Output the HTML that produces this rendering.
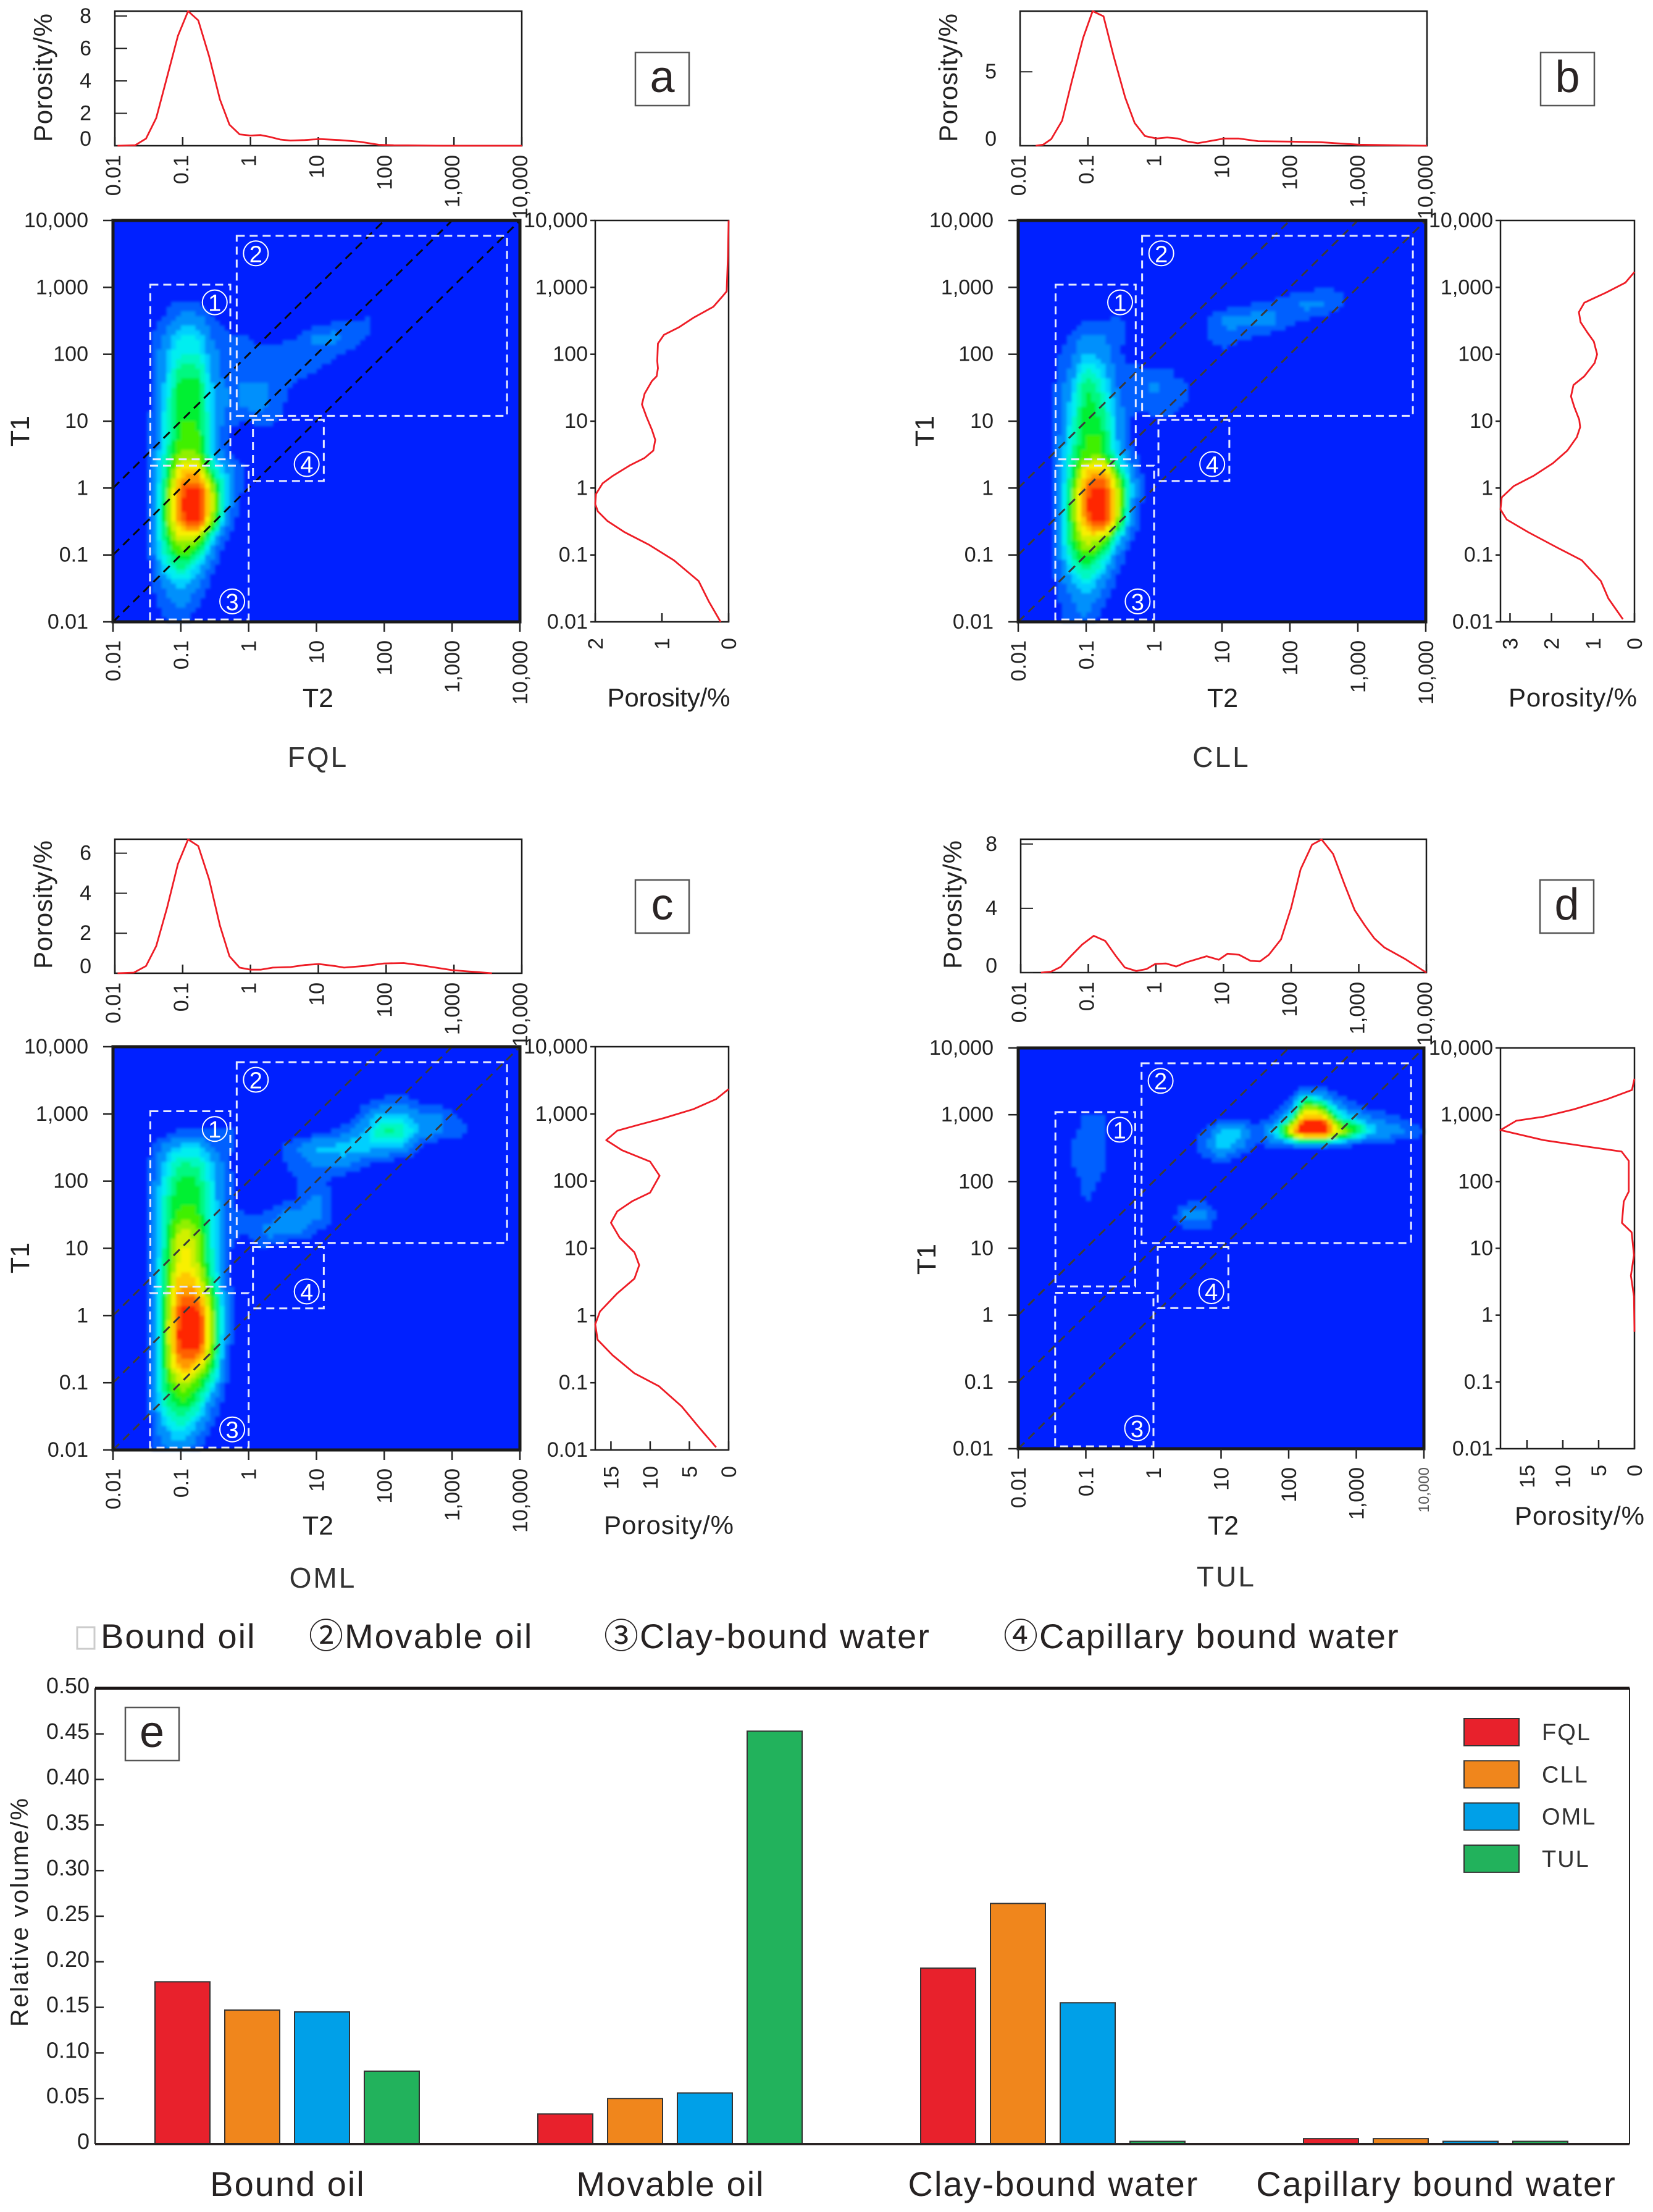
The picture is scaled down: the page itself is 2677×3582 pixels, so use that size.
<!DOCTYPE html>
<html lang="en">
<head>
<meta charset="utf-8">
<title>T1-T2 NMR maps and relative volume chart</title>
<style>
html,body{margin:0;padding:0;background:#fff;}
svg{display:block;font-family:"Liberation Sans","Noto Sans CJK SC",sans-serif;}
</style>
</head>
<body>
<svg id="fig" xmlns="http://www.w3.org/2000/svg" width="2677" height="3582" viewBox="0 0 2677 3582">
  <defs><filter id="soft" x="-5%" y="-5%" width="110%" height="110%"><feGaussianBlur stdDeviation="2"/></filter></defs>
  <rect x="0" y="0" width="2677" height="3582" fill="#fff"/>
  <g font-size="56" fill="#262222" letter-spacing="2">
    <rect x="125" y="2635" width="28" height="35" fill="#fff" stroke="#ccc" stroke-width="3"/>
    <text x="163" y="2669">Bound oil</text>
    <text x="500" y="2669">②Movable oil</text>
    <text x="978" y="2669">③Clay-bound water</text>
    <text x="1625" y="2669">④Capillary bound water</text>
  </g>
</svg>
<script>
/* ---------- shared tick labels ---------- */
var logTicks = [-2, -1, 0, 1, 2, 3, 4];
var logTickLabels = ['0.01', '0.1', '1', '10', '100', '1,000', '10,000'];

/* ---------- T1-T2 density grids: rows T1 = 10^4 down to 10^-2, columns T2 = 10^-2 upward, steps of 0.25 decade ---------- */
var heatA = [[],[],[],[],[],
 [0,0,0,.6,1.3,1.2,.2],
 [0,0,.4,1.3,2.6,2.5,1.1,.3,0,0,0,0,.3,.8,1.05,1.1,.2],
 [0,0,.7,2.1,3.5,3.4,1.8,1.1,1,.6,.8,1.1,2.2,2.3,1.4,.9],
 [0,0,.7,2.7,4,3.9,2.3,1.1,1.3,1.3,1.3,1.3,1.5,1.2,.8],
 [0,0,.7,2.8,4.8,4.7,2.5,1.2,1.4,1.3,1.2,1.2,1,.5],
 [0,0,.7,3.1,5.3,5.2,2.8,1.9,2.3,2.2,1.2,.8],
 [0,0,.7,3.4,5.4,5.3,2.9,1.9,2.3,2.2,1.1,.6],
 [0,0,.7,3.6,5.5,5.4,3,1.1,1.1,1.2,.8],
 [0,0,.7,3.7,5.6,5.6,2.9,.9,.4,.4],
 [0,0,.8,4,6.2,6,3.2,1],
 [0,0,.8,4.3,7.3,7.6,4.4,2.4,.8],
 [0,0,.8,4.8,8.4,9,5.8,2.5,.6],
 [0,0,.8,5,8.8,9.6,6.2,2],
 [0,0,.8,5,8.3,9.2,5.4,1.6],
 [0,0,.8,4.6,6.8,6.4,3.2,.5],
 [0,0,.7,4,5.5,4.7,1.8],
 [0,0,.6,3,4.2,3,.9],
 [0,0,.5,2,3,2,.4],
 [0,0,.3,1.3,2.2,1.1],
 [0,0,0,.9,1.6,.4]];
var heatB = [[],[],[],[],
 [0,0,0,0,0,0,0,0,0,0,0,0,0,0,0,0,.5,.7,.9,.7],
 [0,0,0,0,0,0,0,0,0,0,0,0,.4,.8,1.1,1.3,1.5,2.2,2,1.2,.5],
 [0,0,0,.3,1.1,1.15,1.1,.7,0,0,0,.9,2.1,2.3,2.4,2.2,1.3,.9,.5],
 [0,0,.3,1.1,2.2,2.1,1.1,.9,0,0,0,.9,1.3,1.2,.9,.5],
 [0,0,.7,1.6,3.1,2.6,1.1,.6,0,0,0,0,.8,.5],
 [0,0,.8,2.1,4,3.3,1.4,1.2,1.3,1,.3],
 [0,0,.8,2.7,4.9,3.9,1.8,1.3,2.1,1.4,1.1,.2],
 [0,0,.8,3.1,5.1,4.4,2.2,1.2,1.3,1.2,.9],
 [0,0,.8,3.4,5.3,4.8,2.5,.5,.9,.9],
 [0,0,.9,3.7,5.5,5.2,2.6,.3,0,.2],
 [0,0,.9,4,5.8,5.6,3.2,1.1],
 [0,0,.9,4.3,7.3,7.9,4.8,1.6],
 [0,0,.9,4.8,8.4,9,6,2.2],
 [0,0,.9,5,8.8,9.6,6.2,1.7],
 [0,0,.9,5,8.2,9.2,5.5,1.3],
 [0,0,.8,4.7,6.9,6.4,3.4,.6],
 [0,0,.8,4.1,5.6,4.7,1.8],
 [0,0,.8,3.2,4.4,3.1,.9],
 [0,0,.7,2.2,3.3,2,.4],
 [0,0,.6,1.5,2.4,1.1],
 [0,0,.5,1.2,1.9,.5]];
var heatC = [[],[],[],
 [0,0,0,0,0,0,0,0,0,0,0,0,0,0,0,.5,1.05,1.2,.6],
 [0,0,0,0,0,0,0,0,0,0,0,0,0,0,.6,2,3.2,3,2.2,2.1,1.1,.6],
 [0,0,0,.5,1.2,1.2,1.05,1.05,.5,0,0,0,.6,1.05,2,3.2,4.5,4.2,3,2.4,1.6,.9],
 [0,0,.4,2.4,3.3,3.3,1.8,1.05,.6,0,1.05,2,3,3.1,3.3,3.2,3.2,2.7,1.3],
 [0,0,.9,3,4.5,4.3,3,.9,0,0,.9,1.4,2.1,2.2,2,1.1,.7],
 [0,0,.9,3.6,5.1,4.9,3.2,1.1,0,0,.5,1.1,1.1,.8],
 [0,0,.9,4,5.4,5.2,3.3,1.1,0,0,.6,1.2,2.3,.9],
 [0,0,.9,4.2,5.7,5.5,3.4,1.2,1.1,1.2,2.2,2.4,2.4,.9],
 [0,0,.9,4.4,6.5,6,3.5,1.1,1.1,2.2,2.3,2,1.1,.4],
 [0,0,.9,4.5,7,6.3,3.6,1,.6,.9,.3],
 [0,0,.9,4.6,7.2,6.5,3.8,.9],
 [0,0,.9,4.8,7.9,7.3,4.2,.9],
 [0,0,1,5,8.5,8.2,5.2,1.2],
 [0,0,1,5.2,9.1,9.4,5.5,1.3,.3],
 [0,0,1,5.3,9.4,9.6,5.5,1.2],
 [0,0,1,5.2,9.1,9,5.3,.9],
 [0,0,.9,5,8,7.2,4.6,.6],
 [0,0,.9,4.7,6.5,5.7,3.5,.3],
 [0,0,.8,4.2,5.5,4.7,2.2],
 [0,0,.7,3.5,4.5,3.5,1.2],
 [0,0,.6,2.6,3.5,2.3,.4],
 [0,0,.5,1.9,2.7,1.2]];
var heatD = [[],[],
 [0,0,0,0,0,0,0,0,0,0,0,0,0,0,0,0,0,.3,.3],
 [0,0,0,0,.5,.3,0,0,0,0,0,0,0,0,0,.1,.9,4,3.2,1.5,.5],
 [0,0,0,0,1.05,1.05,0,0,0,0,0,0,0,0,.3,.9,3.2,7.5,7.2,4,2.5,1.5,1.05,.5],
 [0,0,0,.7,1.3,1.1,.3,0,0,0,.5,1.1,3.1,3.2,1.6,3,6.5,9.7,9.6,6.6,5,3.2,2.5,1.8,.9],
 [0,0,0,.8,1.4,1.1,.2,0,0,0,.6,1.6,3.1,2.2,.8,1.05,1.3,1.3,1.2,1.05,.3],
 [0,0,0,.8,1.4,1.05,.2,0,0,0,0,.4,.6],
 [0,0,0,.3,1.3,.8],
 [0,0,0,0,1.05,.3,0,0,0,0,.5,.6],
 [0,0,0,0,0,0,0,0,0,.6,2.3,2.5,.3],
 [0,0,0,0,0,0,0,0,0,.1,.7,.8],
 [],[],[],[],[],[],[],[],[],[],[],[],[]];

/* ---------- top curves: log10(T2) and porosity ---------- */
var topLogA = [-1.96,-1.70,-1.54,-1.39,-1.23,-1.07,-.92,-.77,-.61,-.45,-.31,-.16,0,.15,.29,.44,.59,.80,1.02,1.31,1.60,1.89,2.11,2.84,4];
var topPorA = [0,.03,.44,1.71,4.24,6.77,8.3,7.73,5.51,2.85,1.30,.70,.63,.66,.54,.38,.32,.35,.41,.35,.25,.06,.03,0,0];
var topLogB = [-1.77,-1.66,-1.54,-1.38,-1.24,-1.07,-.93,-.77,-.62,-.45,-.31,-.16,.01,.17,.33,.47,.62,.79,1.01,1.22,1.51,2.0,2.43,3.0,4];
var topPorB = [0,.07,.45,1.70,4.31,7.29,9.1,8.75,6.04,3.26,1.53,.66,.49,.56,.49,.28,.17,.31,.49,.49,.31,.28,.24,.07,0];
var topLogC = [-1.96,-1.72,-1.54,-1.39,-1.23,-1.07,-.92,-.77,-.61,-.45,-.31,-.16,0,.15,.33,.59,.80,1.01,1.24,1.38,1.67,1.97,2.26,2.55,2.98,3.56];
var topPorC = [0,.03,.36,1.36,3.28,5.46,6.69,6.36,4.69,2.38,.85,.28,.18,.18,.28,.31,.41,.46,.36,.28,.36,.49,.51,.38,.15,0];
var topLogD = [-1.70,-1.55,-1.41,-1.26,-1.09,-.92,-.75,-.59,-.46,-.29,-.14,-.01,.15,.30,.45,.75,.93,1.06,1.23,1.40,1.54,1.67,1.85,2.0,2.14,2.31,2.45,2.62,2.79,2.94,3.09,3.23,3.38,3.68,4];
var topPorD = [0,.06,.35,1.02,1.75,2.29,1.97,1.02,.32,.10,.22,.54,.57,.38,.64,1.02,.80,1.18,1.11,.73,.70,1.11,2.07,4.04,6.43,7.96,8.28,7.39,5.48,3.89,2.93,2.13,1.56,.86,0];

/* ---------- right curves: log10(T1) and porosity ---------- */
var rightLogA = [4,3.47,2.94,2.88,2.71,2.55,2.40,2.29,2.16,1.90,1.79,1.67,1.60,1.41,1.25,1.06,.87,.72,.56,.45,.34,.18,.07,-.09,-.24,-.35,-.49,-.66,-.85,-1.08,-1.39,-1.69,-2];
var rightPorA = [0,.01,.03,.08,.23,.52,.75,.97,1.06,1.07,1.06,1.08,1.15,1.26,1.30,1.23,1.15,1.10,1.13,1.26,1.48,1.74,1.89,1.99,2,1.96,1.82,1.56,1.19,.82,.45,.30,.12];
var rightLogB = [3.23,3.07,2.92,2.82,2.77,2.63,2.48,2.32,2.19,2.0,1.87,1.67,1.54,1.37,1.21,1.02,.91,.76,.56,.37,.18,.03,-.14,-.32,-.47,-.66,-.89,-1.08,-1.39,-1.65,-1.96];
var rightPorB = [0,.22,.69,1.04,1.21,1.34,1.30,1.13,.98,.90,.96,1.21,1.47,1.53,1.45,1.33,1.31,1.39,1.62,1.97,2.44,2.91,3.2,3.23,3.08,2.56,1.86,1.27,.81,.63,.28];
var rightLogC = [3.37,3.22,3.07,2.94,2.84,2.75,2.61,2.46,2.29,2.08,1.83,1.70,1.55,1.38,1.16,.94,.75,.55,.33,.06,-.13,-.36,-.59,-.86,-1.05,-1.35,-1.66,-1.96];
var rightPorC = [0,1.6,4.5,8.2,11.4,14.2,15.6,13.6,10,8.8,10,12.3,14.2,15,13.9,12,11.4,12,14.2,16.4,17,16.7,14.8,12,8.9,6,3.8,1.6];
var rightLogD = [3.54,3.37,3.23,3.08,2.97,2.91,2.77,2.62,2.52,2.45,2.31,1.85,1.70,1.38,1.24,.90,.59,.28,-.25];
var rightPorD = [0,.35,3.9,8.5,12.7,16.5,18.7,12.7,6.4,1.8,.8,.8,1.5,1.75,.4,.07,.5,.07,0];

/* ---------- porosity tick values ---------- */
var topTicksA = [0,2,4,6,8];
var topTicksB = [0,5];
var topTicksC = [0,2,4,6];
var topTicksD = [0,4,8];
var rightTicksA = [0,1,2];
var rightTicksB = [0,1,2,3];
var rightTicksC = [0,5,10,15];
var rightTicksD = [0,5,10,15];

/* ---------- bar chart data ---------- */
var barCategories = ['Bound oil','Movable oil','Clay-bound water','Capillary bound water'];
var barSeriesNames = ['FQL','CLL','OML','TUL'];
var barFQL = [.178,.033,.193,.006];
var barCLL = [.147,.050,.264,.006];
var barOML = [.145,.056,.155,.003];
var barTUL = [.080,.453,.003,.003];
var barTicks = [0,.05,.10,.15,.20,.25,.30,.35,.40,.45,.50];
var barTickLabels = ['0','0.05','0.10','0.15','0.20','0.25','0.30','0.35','0.40','0.45','0.50'];

var heatThresholds = [1,2,3,3.5,4,4.5,5,5.5,6,6.5,7,7.5,8,8.5,9];
var heatColors = ['#0060ff','#0090fc','#00cfff','#00eef0','#00f8c0','#00f880','#00f030','#40f000','#90f000','#d0f000','#f8f000','#ffc800','#ff9800','#ff6000','#ff2800'];

var NS = 'http://www.w3.org/2000/svg';
var fig = document.getElementById('fig');
function make(parent, tag, attrs) {
  var el = document.createElementNS(NS, tag);
  for (var k in attrs) el.setAttribute(k, attrs[k]);
  parent.appendChild(el);
  return el;
}
function label(parent, str, x, y, size, anchor, rot, fill) {
  var attrs = {x: x, y: y, 'font-size': size, 'text-anchor': anchor || 'start', fill: fill || '#222'};
  if (rot) attrs.transform = 'rotate(' + rot + ' ' + x + ' ' + y + ')';
  var el = make(parent, 'text', attrs);
  el.textContent = str;
  return el;
}
function linear(d0, d1, r0, r1) { return function (v) { return r0 + (v - d0) * (r1 - r0) / (d1 - d0); }; }
function cr(a, b, c, d, t) {
  var v = .5 * (2 * b + (c - a) * t + (2 * a - 5 * b + 4 * c - d) * t * t + (3 * b - a - 3 * c + d) * t * t * t);
  return Math.max(Math.min(b, c), Math.min(Math.max(b, c), v));
}
function heatAt(grid, lx, ly) {
  var u = (lx + 2) / .25, w = (4 - ly) / .25;
  var c0 = Math.floor(u), r0 = Math.floor(w), tc = u - c0, tr = w - r0;
  function g(r, c) { var row = grid[Math.max(0, Math.min(24, r))]; return (row && row[c]) || 0; }
  var col = [];
  for (var k = -1; k <= 2; k++) col.push(cr(g(r0 + k, c0 - 1), g(r0 + k, c0), g(r0 + k, c0 + 1), g(r0 + k, c0 + 2), tc));
  return cr(col[0], col[1], col[2], col[3], tr);
}
function bandColor(v) {
  var color = null;
  for (var i = 0; i < heatThresholds.length; i++) if (v >= heatThresholds[i]) color = heatColors[i];
  return color;
}

function drawPanel(p) {
  var g = make(fig, 'g', {});
  
  
  var sx = linear(-2, 4, p.mx0, p.mx1), sy = linear(4, -2, p.my0, p.my1);

  /* heatmap */
  var bg = make(g, 'rect', {x: p.mx0, y: p.my0, width: p.mx1 - p.mx0, height: p.my1 - p.my0, fill: '#0020ff'});
  
  
  var cells = make(g, 'g', {filter: 'url(#soft)', 'shape-rendering': 'crispEdges'});
  
  
  var n = 84, step = 6 / n;
  for (var cy = 0; cy < n; cy++) for (var cx = 0; cx < n; cx++) {
    var color = bandColor(heatAt(p.heat, -2 + (cx + .5) * step, 4 - (cy + .5) * step));
    if (!color) continue;
    var x0 = sx(-2 + cx * step), x1 = sx(-2 + (cx + 1) * step), y0 = sy(4 - cy * step), y1 = sy(4 - (cy + 1) * step);
    var cell = make(cells, 'rect', {x: x0.toFixed(1), y: y0.toFixed(1), width: (x1 - x0 + .6).toFixed(1), height: (y1 - y0 + .6).toFixed(1), fill: color});
    
    
  }

  /* ratio lines */
  [2, 1, 0].forEach(function (ratio) {
    var line = make(g, 'line', {x1: sx(-2), y1: sy(ratio - 2), x2: sx(4 - ratio), y2: sy(4), stroke: p.diag, 'stroke-width': 3, 'stroke-dasharray': '14 9'});
    
    
  });

  /* region boxes */
  [[-1.45, -.27, 3.04, .43], [-.176, 3.81, 3.77, 1.08], [-1.454, 0, .334, -1.964], [.064, 1.108, 1.018, .106]].forEach(function (b) {
    var box = make(g, 'rect', {x: sx(b[0]), y: sy(b[2]), width: sx(b[1]) - sx(b[0]), height: sy(b[3]) - sy(b[2]), fill: 'none', stroke: '#e4e8ff', 'stroke-width': 3, 'stroke-dasharray': '13 8'});
    
    
  });
  [['1', -.5, 2.776], ['2', .106, 3.508], ['3', -.242, -1.694], ['4', .856, .358]].forEach(function (m) {
    var ring = make(g, 'circle', {cx: sx(m[1]), cy: sy(m[2]), r: 20, fill: 'none', stroke: '#fff', 'stroke-width': 2});
    
    
    var digit = label(g, m[0], sx(m[1]), sy(m[2]) + 14, 38, 'middle', 0, '#fff');
    
    
  });

  var frame = make(g, 'rect', {x: p.mx0, y: p.my0, width: p.mx1 - p.mx0, height: p.my1 - p.my0, fill: 'none', stroke: '#1a1a1a', 'stroke-width': 5});
  
  

  /* main axes */
  logTicks.forEach(function (t, i) {
    var tx = make(g, 'line', {x1: sx(t), y1: p.my1, x2: sx(t), y2: p.my1 + 16, stroke: '#222', 'stroke-width': 2.5});
    
    
    var small = p.id === 'd' && i === 6;
    var lx = label(g, logTickLabels[i], sx(t) + (small ? 8 : 12), p.my1 + 30, small ? 24 : 34, 'end', -90, small ? '#555' : '#222');
    
    
    var ty = make(g, 'line', {x1: p.mx0 - 16, y1: sy(t), x2: p.mx0, y2: sy(t), stroke: '#222', 'stroke-width': 2.5});
    
    
    var ly = label(g, logTickLabels[i], p.mx0 - 40, sy(t) + 11, 34, 'end');
    
    
  });
  var t2 = label(g, 'T2', p.t2[0], p.t2[1] + 15, 43, 'middle');
  
  
  var t1 = label(g, 'T1', p.t1[0] + 15, p.t1[1], 43, 'middle', -90);
  
  
  var nm = label(g, p.name, p.nm[0], p.nm[1] + 17, 46, 'middle', 0, '#333');
  nm.setAttribute('letter-spacing', '3');
  
  

  /* top plot */
  var tg = make(g, 'g', {});
  
  
  var tx = linear(-2, 4, p.tx0, p.tx1), ty = linear(0, p.topMax, p.ty1, p.ty0);
  var tf = make(tg, 'rect', {x: p.tx0, y: p.ty0, width: p.tx1 - p.tx0, height: p.ty1 - p.ty0, fill: '#fff', stroke: '#1a1a1a', 'stroke-width': 2.5});
  
  
  logTicks.forEach(function (t, i) {
    var tk = make(tg, 'line', {x1: tx(t), y1: p.ty1 - 14, x2: tx(t), y2: p.ty1, stroke: '#222', 'stroke-width': 2.5});
    
    
    var tl = label(tg, logTickLabels[i], tx(t) + 9, p.ty1 + 15, 34, 'end', -90);
    
    
  });
  p.topTicks.forEach(function (v) {
    var tk = make(tg, 'line', {x1: p.tx0, y1: ty(v), x2: p.tx0 + 20, y2: ty(v), stroke: '#222', 'stroke-width': 2});
    
    
    var tl = label(tg, String(v), p.tx0 - 38, ty(v) + (v === 0 ? 0 : 11), 34, 'end');
    
    
  });
  var tpath = make(tg, 'polyline', {points: p.topLog.map(function (v, i) { return tx(v).toFixed(1) + ',' + ty(p.topPor[i]).toFixed(1); }).join(' '), fill: 'none', stroke: '#ee1c25', 'stroke-width': 2.8, 'stroke-linejoin': 'round'});
  
  
  var tt = label(tg, 'Porosity/%', p.tTitle[0] + 14, p.tTitle[1], 42, 'middle', -90);
  tt.setAttribute('textLength', '208');
  
  
  var bx = make(tg, 'rect', {x: p.lb[0], y: p.lb[1], width: 87, height: 86, fill: '#fff', stroke: '#555', 'stroke-width': 2.5});
  
  
  var letter = label(tg, p.id, p.lb[0] + 43.5, p.lb[1] + 64, 72, 'middle', 0, '#2a2424');
  
  

  /* right plot */
  var rg = make(g, 'g', {});
  
  
  var rx = linear(0, p.rightMax, p.rx1, p.rx0);
  var rf = make(rg, 'rect', {x: p.rx0, y: p.my0, width: p.rx1 - p.rx0, height: p.my1 - p.my0, fill: '#fff', stroke: '#1a1a1a', 'stroke-width': 2.5});
  
  
  logTicks.forEach(function (t, i) {
    var tk = make(rg, 'line', {x1: p.rx0 - 8, y1: sy(t), x2: p.rx0, y2: sy(t), stroke: '#222', 'stroke-width': 2.5});
    
    
    var tl = label(rg, logTickLabels[i], p.rx0 - 12, sy(t) + 11, 34, 'end');
    
    
  });
  p.rightTicks.forEach(function (v) {
    var tk = make(rg, 'line', {x1: rx(v), y1: p.my1 - 14, x2: rx(v), y2: p.my1, stroke: '#222', 'stroke-width': 2.5});
    
    
    var tl = label(rg, String(v), rx(v) + 12, p.my1 + 26, 34, 'end', -90);
    
    
  });
  var rpath = make(rg, 'polyline', {points: p.rightLog.map(function (v, i) { return rx(p.rightPor[i]).toFixed(1) + ',' + sy(v).toFixed(1); }).join(' '), fill: 'none', stroke: '#ee1c25', 'stroke-width': 2.8, 'stroke-linejoin': 'round'});
  
  
  var rt = label(rg, 'Porosity/%', p.rTitle[0], p.rTitle[1] + 14, 42, 'middle');
  rt.setAttribute('textLength', p.rLen);
  
  
}

drawPanel({id: 'a', name: 'FQL', heat: heatA, mx0: 183, mx1: 842, my0: 357, my1: 1007, diag: '#0a0a0a',
  t2: [515, 1130], t1: [32, 698], nm: [515, 1225],
  tx0: 186, tx1: 845, ty0: 18, ty1: 236, topMax: 8.3, topLog: topLogA, topPor: topPorA, topTicks: topTicksA, tTitle: [70, 126], lb: [1029, 85],
  rx0: 964, rx1: 1180, rightMax: 2, rightLog: rightLogA, rightPor: rightPorA, rightTicks: rightTicksA, rTitle: [1083, 1130], rLen: 199});
drawPanel({id: 'b', name: 'CLL', heat: heatB, mx0: 1649, mx1: 2309, my0: 357, my1: 1007, diag: '#3a3a3a',
  t2: [1980, 1130], t1: [1497, 698], nm: [1978, 1225],
  tx0: 1652, tx1: 2311, ty0: 18, ty1: 236, topMax: 9.1, topLog: topLogB, topPor: topPorB, topTicks: topTicksB, tTitle: [1536, 126], lb: [2495, 85],
  rx0: 2430, rx1: 2647, rightMax: 3.23, rightLog: rightLogB, rightPor: rightPorB, rightTicks: rightTicksB, rTitle: [2547, 1130], rLen: 208});
drawPanel({id: 'c', name: 'OML', heat: heatC, mx0: 183, mx1: 842, my0: 1695, my1: 2348, diag: '#3a3a3a',
  t2: [515, 2470], t1: [32, 2037], nm: [523, 2554],
  tx0: 186, tx1: 845, ty0: 1359, ty1: 1576, topMax: 6.7, topLog: topLogC, topPor: topPorC, topTicks: topTicksC, tTitle: [70, 1465], lb: [1029, 1425],
  rx0: 964, rx1: 1180, rightMax: 17, rightLog: rightLogC, rightPor: rightPorC, rightTicks: rightTicksC, rTitle: [1083, 2470], rLen: 210});
drawPanel({id: 'd', name: 'TUL', heat: heatD, mx0: 1649, mx1: 2306, my0: 1697, my1: 2346, diag: '#3a3a3a',
  t2: [1981, 2470], t1: [1500, 2039], nm: [1986, 2552],
  tx0: 1653, tx1: 2310, ty0: 1359, ty1: 1575, topMax: 8.3, topLog: topLogD, topPor: topPorD, topTicks: topTicksD, tTitle: [1543, 1465], lb: [2494, 1425],
  rx0: 2430, rx1: 2647, rightMax: 18.7, rightLog: rightLogD, rightPor: rightPorD, rightTicks: rightTicksD, rTitle: [2558, 2455], rLen: 210});

/* ---------- bar chart ---------- */
(function () {
  var g = make(fig, 'g', {});
  
  
  var series = [barFQL, barCLL, barOML, barTUL];
  var colors = ['#e8212c', '#f0861c', '#00a0e8', '#22b25c'];
  var px0 = 154, px1 = 2639, py0 = 2734, py1 = 3472;
  var sy = linear(0, .5, py1, py0);
  function groupX(c) { return 251 + c * 620; }
  function barX(c, s) { return groupX(c) + s * 113; }

  var left = make(g, 'line', {x1: px0, y1: py0, x2: px0, y2: py1, stroke: '#222', 'stroke-width': 2.5});
  
  
  var right = make(g, 'line', {x1: px1, y1: py0, x2: px1, y2: py1, stroke: '#222', 'stroke-width': 2});
  
  

  barTicks.forEach(function (t, i) {
    var tk = make(g, 'line', {x1: px0, y1: sy(t), x2: px0 + 14, y2: sy(t), stroke: '#222', 'stroke-width': 2.5});
    
    
    var tl = label(g, barTickLabels[i], 145, sy(t) + 8, 36, 'end');
    
    
  });

  series.forEach(function (vals, s) {
    vals.forEach(function (v, c) {
      var bar = make(g, 'rect', {x: barX(c, s), y: sy(v), width: 89, height: py1 - sy(v), fill: colors[s], stroke: '#333', 'stroke-width': 2});
      
      
    });
  });

  var top = make(g, 'line', {x1: px0, y1: py0, x2: px1, y2: py0, stroke: '#1a1414', 'stroke-width': 5});
  
  
  var bottom = make(g, 'line', {x1: px0, y1: py1, x2: px1, y2: py1, stroke: '#2a2424', 'stroke-width': 4});
  
  

  barCategories.forEach(function (name, c) {
    var cl = label(g, name, barX(c, 0) + 215, 3556, 56, 'middle', 0, '#262222');
    cl.setAttribute('letter-spacing', '2');
    
    
  });

  var yt = label(g, 'Relative volume/%', 45, 3097, 40, 'middle', -90);
  yt.setAttribute('textLength', '370');
  
  

  var eb = make(g, 'rect', {x: 203, y: 2765, width: 87, height: 86, fill: '#fff', stroke: '#555', 'stroke-width': 2.5});
  
  
  var el = label(g, 'e', 246, 2829, 72, 'middle', 0, '#2a2424');
  
  

  barSeriesNames.forEach(function (name, s) {
    var ly = 2783 + s * 68.3;
    var sw = make(g, 'rect', {x: 2371, y: ly, width: 89, height: 44, fill: colors[s], stroke: '#333', 'stroke-width': 2});
    
    
    var lt = label(g, name, 2497, ly + 35, 38, 'start', 0, '#333');
    lt.setAttribute('letter-spacing', '2');
    
    
  });
})();
</script>
</body>
</html>
